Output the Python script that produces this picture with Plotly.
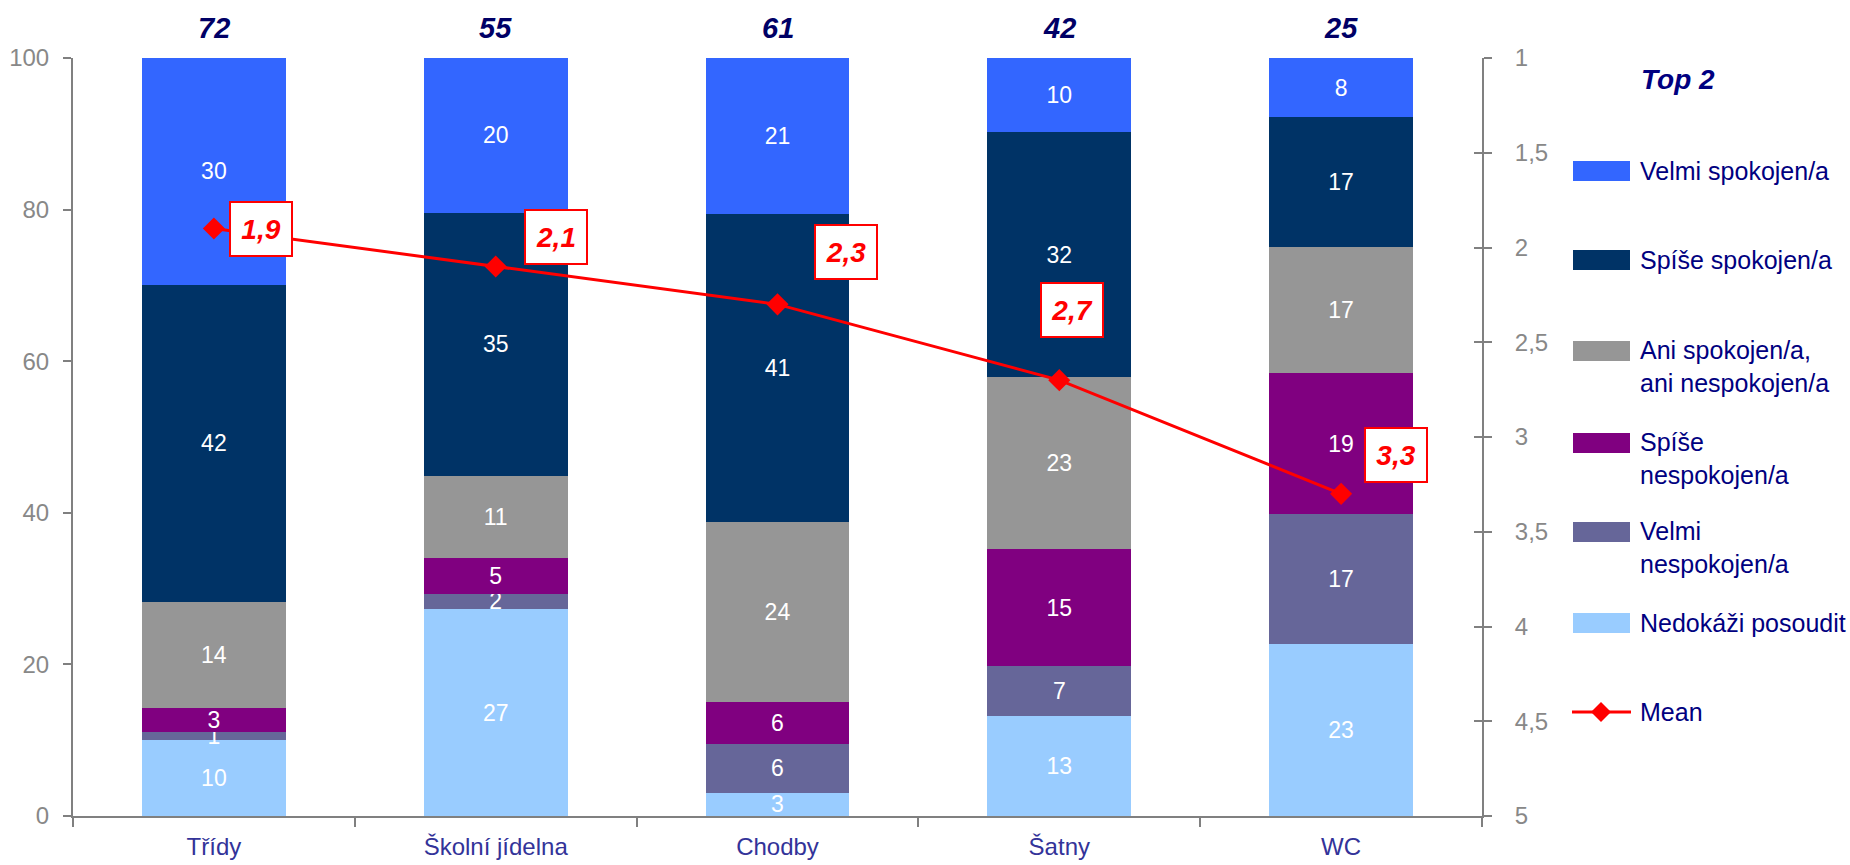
import plotly.graph_objects as go

# ---------------- data ----------------
categories = ["Třídy", "Školní jídelna", "Chodby", "Šatny", "WC"]

# stacked shares (%), bottom -> top
nedokazi_posoudit = [10.0, 27.3, 3.1, 13.2, 22.7]
velmi_nespokojen = [1.1, 2.0, 6.4, 6.6, 17.1]
spise_nespokojen = [3.1, 4.8, 5.6, 15.4, 18.6]
ani_ani = [14.0, 10.8, 23.7, 22.7, 16.7]
spise_spokojen = [41.9, 34.7, 40.6, 32.3, 17.1]
velmi_spokojen = [29.9, 20.4, 20.6, 9.8, 7.8]

mean_values = [1.9, 2.1, 2.3, 2.7, 3.3]
top2_values = [72, 55, 61, 42, 25]

series_labels = [
    "Velmi spokojen/a",
    "Spíše spokojen/a",
    "Ani spokojen/a,<br>ani nespokojen/a",
    "Spíše<br>nespokojen/a",
    "Velmi<br>nespokojen/a",
    "Nedokáži posoudit",
]
mean_label = "Mean"
top_title = "Top 2"

# ---------------- styles ----------------
FONT = "Liberation Sans, Arial, sans-serif"
colors = ["#3366FF", "#003366", "#969696", "#800080", "#666699", "#99CCFF"]
GRAY = "#808080"
TICK_GRAY = "#888888"
CAT_COLOR = "#333399"
NAVY = "#000080"
RED = "#FF0000"

W, H = 1850, 865
L, R, T, B = 73, 368, 58, 49
PW, PH = W - L - R, H - T - B


def px_x(px):
    return (px - L) / PW


def px_y(py):
    return (H - B - py) / PH


series_values = [velmi_spokojen, spise_spokojen, ani_ani,
                 spise_nespokojen, velmi_nespokojen, nedokazi_posoudit]

fig = go.Figure()

# bars, bottom to top
for vals, name, col in reversed(list(zip(series_values, series_labels, colors))):
    fig.add_trace(go.Bar(
        x=categories, y=vals, name=name.replace("<br>", " "),
        marker=dict(color=col, line=dict(width=0)),
        texttemplate="%{y:.0f}", textposition="inside",
        insidetextanchor="middle", textangle=0, constraintext="none",
        textfont=dict(family=FONT, size=23, color="white"),
        showlegend=False, hoverinfo="skip",
    ))

fig.add_trace(go.Scatter(
    x=categories, y=mean_values, yaxis="y2", mode="lines+markers",
    name=mean_label, line=dict(color=RED, width=3),
    marker=dict(symbol="diamond", size=17, color=RED),
    showlegend=False, hoverinfo="skip",
))
# invisible helper trace for the inside ticks of the right axis
fig.add_trace(go.Scatter(x=categories, y=mean_values, yaxis="y3",
                         mode="none", showlegend=False, hoverinfo="skip"))

annotations = []
# mean value labels
mean_offsets = [(47, 0), (60, 29), (68, 52), (13, 70), (55, 39)]
for c, m, (dx, dy) in zip(categories, mean_values, mean_offsets):
    annotations.append(dict(
        x=c, y=m, xref="x", yref="y2", showarrow=False,
        text="<b><i>" + f"{m:.1f}".replace(".", ",") + "</i></b>",
        font=dict(family=FONT, size=28, color=RED),
        bgcolor="white", bordercolor=RED, borderwidth=2, borderpad=2,
        width=56, height=48, xshift=dx, yshift=dy,
    ))
# top-2 numbers above bars
for c, t in zip(categories, top2_values):
    annotations.append(dict(
        x=c, y=1, xref="x", yref="paper", showarrow=False, yshift=30,
        yanchor="middle", text=f"<b><i>{t}</i></b>",
        font=dict(family=FONT, size=29, color="#000066"),
    ))
# "Top 2" title
annotations.append(dict(
    x=px_x(1678), y=px_y(80), xref="paper", yref="paper", showarrow=False,
    xanchor="center", yanchor="middle", text=f"<b><i>{top_title}</i></b>",
    font=dict(family=FONT, size=28, color=NAVY),
))

shapes = []
legend_centers = [171, 260, 351, 443, 532, 623]
for lab, col, cy in zip(series_labels, colors, legend_centers):
    shapes.append(dict(type="rect", xref="paper", yref="paper",
                       x0=px_x(1573), x1=px_x(1630),
                       y0=px_y(cy + 10), y1=px_y(cy - 10),
                       fillcolor=col, line=dict(width=0)))
    nlines = lab.count("<br>") + 1
    annotations.append(dict(
        x=px_x(1638), y=px_y(cy + (nlines - 1) * 15.5), xref="paper", yref="paper",
        showarrow=False, xanchor="left", yanchor="middle", align="left",
        text=lab, font=dict(family=FONT, size=25, color=NAVY),
    ))
# mean legend entry
my = 712
shapes.append(dict(type="line", xref="paper", yref="paper",
                   x0=px_x(1572), x1=px_x(1631), y0=px_y(my), y1=px_y(my),
                   line=dict(color=RED, width=3)))
cx = 1601
shapes.append(dict(
    type="path", xref="paper", yref="paper", fillcolor=RED, line=dict(width=0),
    path=(f"M {px_x(cx)},{px_y(my - 10)} L {px_x(cx + 10)},{px_y(my)} "
          f"L {px_x(cx)},{px_y(my + 10)} L {px_x(cx - 10)},{px_y(my)} Z"),
))
annotations.append(dict(
    x=px_x(1638), y=px_y(my), xref="paper", yref="paper", showarrow=False,
    xanchor="left", yanchor="middle", text=mean_label,
    font=dict(family=FONT, size=25, color=NAVY),
))

fig.update_layout(
    width=W, height=H, barmode="stack", bargap=0.49,
    margin=dict(l=L, r=R, t=T, b=B, pad=0, autoexpand=False),
    plot_bgcolor="white", paper_bgcolor="white",
    separators=", ", showlegend=False,
    font=dict(family=FONT),
    xaxis=dict(
        showline=True, linecolor=GRAY, linewidth=2, ticks="outside",
        tickson="boundaries", ticklen=9, tickwidth=2, tickcolor=GRAY,
        tickfont=dict(family=FONT, size=24, color=CAT_COLOR),
        ticklabelstandoff=8, showgrid=False, zeroline=False, automargin=False,
    ),
    yaxis=dict(
        range=[0, 100], dtick=20, showline=True, linecolor=GRAY, linewidth=2,
        ticks="outside", ticklen=8, tickwidth=2, tickcolor=GRAY,
        tickfont=dict(family=FONT, size=24, color=TICK_GRAY),
        ticklabelstandoff=9, showgrid=False, zeroline=False, automargin=False,
    ),
    yaxis2=dict(
        overlaying="y", side="right", range=[5, 1], tick0=1, dtick=0.5,
        showline=True, linecolor=GRAY, linewidth=2, ticks="outside",
        ticklen=8, tickwidth=2, tickcolor=GRAY,
        tickfont=dict(family=FONT, size=24, color=TICK_GRAY),
        ticklabelstandoff=18, showgrid=False, zeroline=False, automargin=False,
    ),
    yaxis3=dict(
        overlaying="y", side="right", range=[5, 1], tick0=1, dtick=0.5,
        showline=False, ticks="inside", ticklen=8, tickwidth=2, tickcolor=GRAY,
        showticklabels=False, showgrid=False, zeroline=False, automargin=False,
    ),
    annotations=annotations, shapes=shapes,
)

fig.write_html("out.html", config={"displayModeBar": False},
               post_script="document.body.style.margin='0';")
